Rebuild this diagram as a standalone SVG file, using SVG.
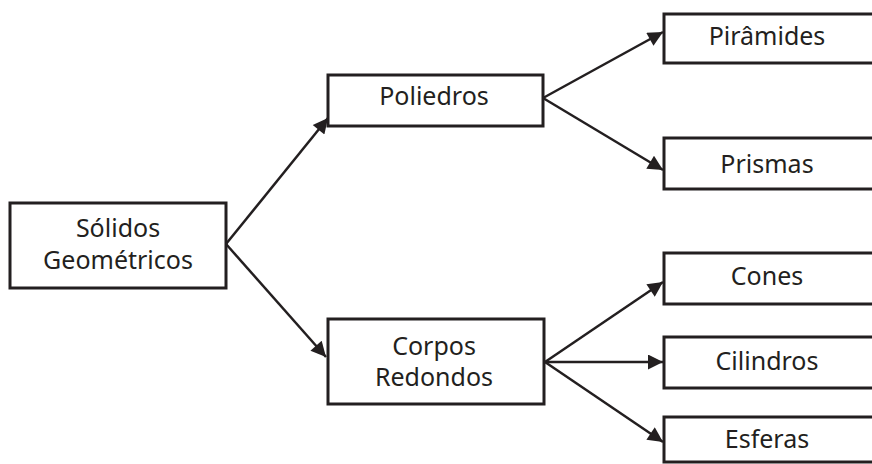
<svg xmlns="http://www.w3.org/2000/svg" width="872" height="464" viewBox="0 0 872 464">
<style>
.box{fill:#fff;stroke:#231f20;stroke-width:3}
.t{font-family:"Noto Sans","Liberation Sans",sans-serif;font-size:25px;fill:#231f20;text-anchor:middle}
.c{stroke:#231f20;stroke-width:2.5;fill:none;marker-end:url(#ah)}
</style>
<defs>
<marker id="ah" viewBox="0 0 10 10" refX="10" refY="5" markerWidth="18" markerHeight="15" markerUnits="userSpaceOnUse" orient="auto">
<path d="M0,0 L10,5 L0,10 z" fill="#231f20"/>
</marker>
</defs>
<rect width="872" height="464" fill="#fff"/>
<g id="connectors">
<line class="c" x1="226" y1="244" x2="328" y2="118"/>
<line class="c" x1="226" y1="244" x2="326" y2="357"/>
<line class="c" x1="543" y1="98" x2="663" y2="32"/>
<line class="c" x1="543" y1="98" x2="663" y2="170"/>
<line class="c" x1="545" y1="362" x2="663" y2="282"/>
<line class="c" x1="545" y1="362" x2="663" y2="362"/>
<line class="c" x1="545" y1="362" x2="663" y2="442"/>
</g>
<g id="solidos"><rect class="box" x="10" y="203" width="216" height="85"/>
<text class="t" x="118" y="237">Sólidos</text><text class="t" x="118" y="269">Geométricos</text></g>
<g id="poliedros"><rect class="box" x="328" y="75" width="215" height="51"/>
<text class="t" x="434" y="105">Poliedros</text></g>
<g id="corpos"><rect class="box" x="328" y="319" width="216" height="85"/>
<text class="t" x="434" y="355">Corpos</text><text class="t" x="434" y="386">Redondos</text></g>
<g id="piramides"><rect class="box" x="664" y="14" width="212" height="49"/>
<text class="t" x="767" y="45">Pirâmides</text></g>
<g id="prismas"><rect class="box" x="664" y="138" width="212" height="51"/>
<text class="t" x="767" y="173">Prismas</text></g>
<g id="cones"><rect class="box" x="664" y="253" width="212" height="51"/>
<text class="t" x="767" y="285">Cones</text></g>
<g id="cilindros"><rect class="box" x="664" y="337" width="212" height="51"/>
<text class="t" x="767" y="370">Cilindros</text></g>
<g id="esferas"><rect class="box" x="664" y="417" width="212" height="45"/>
<text class="t" x="767" y="448">Esferas</text></g>
</svg>
